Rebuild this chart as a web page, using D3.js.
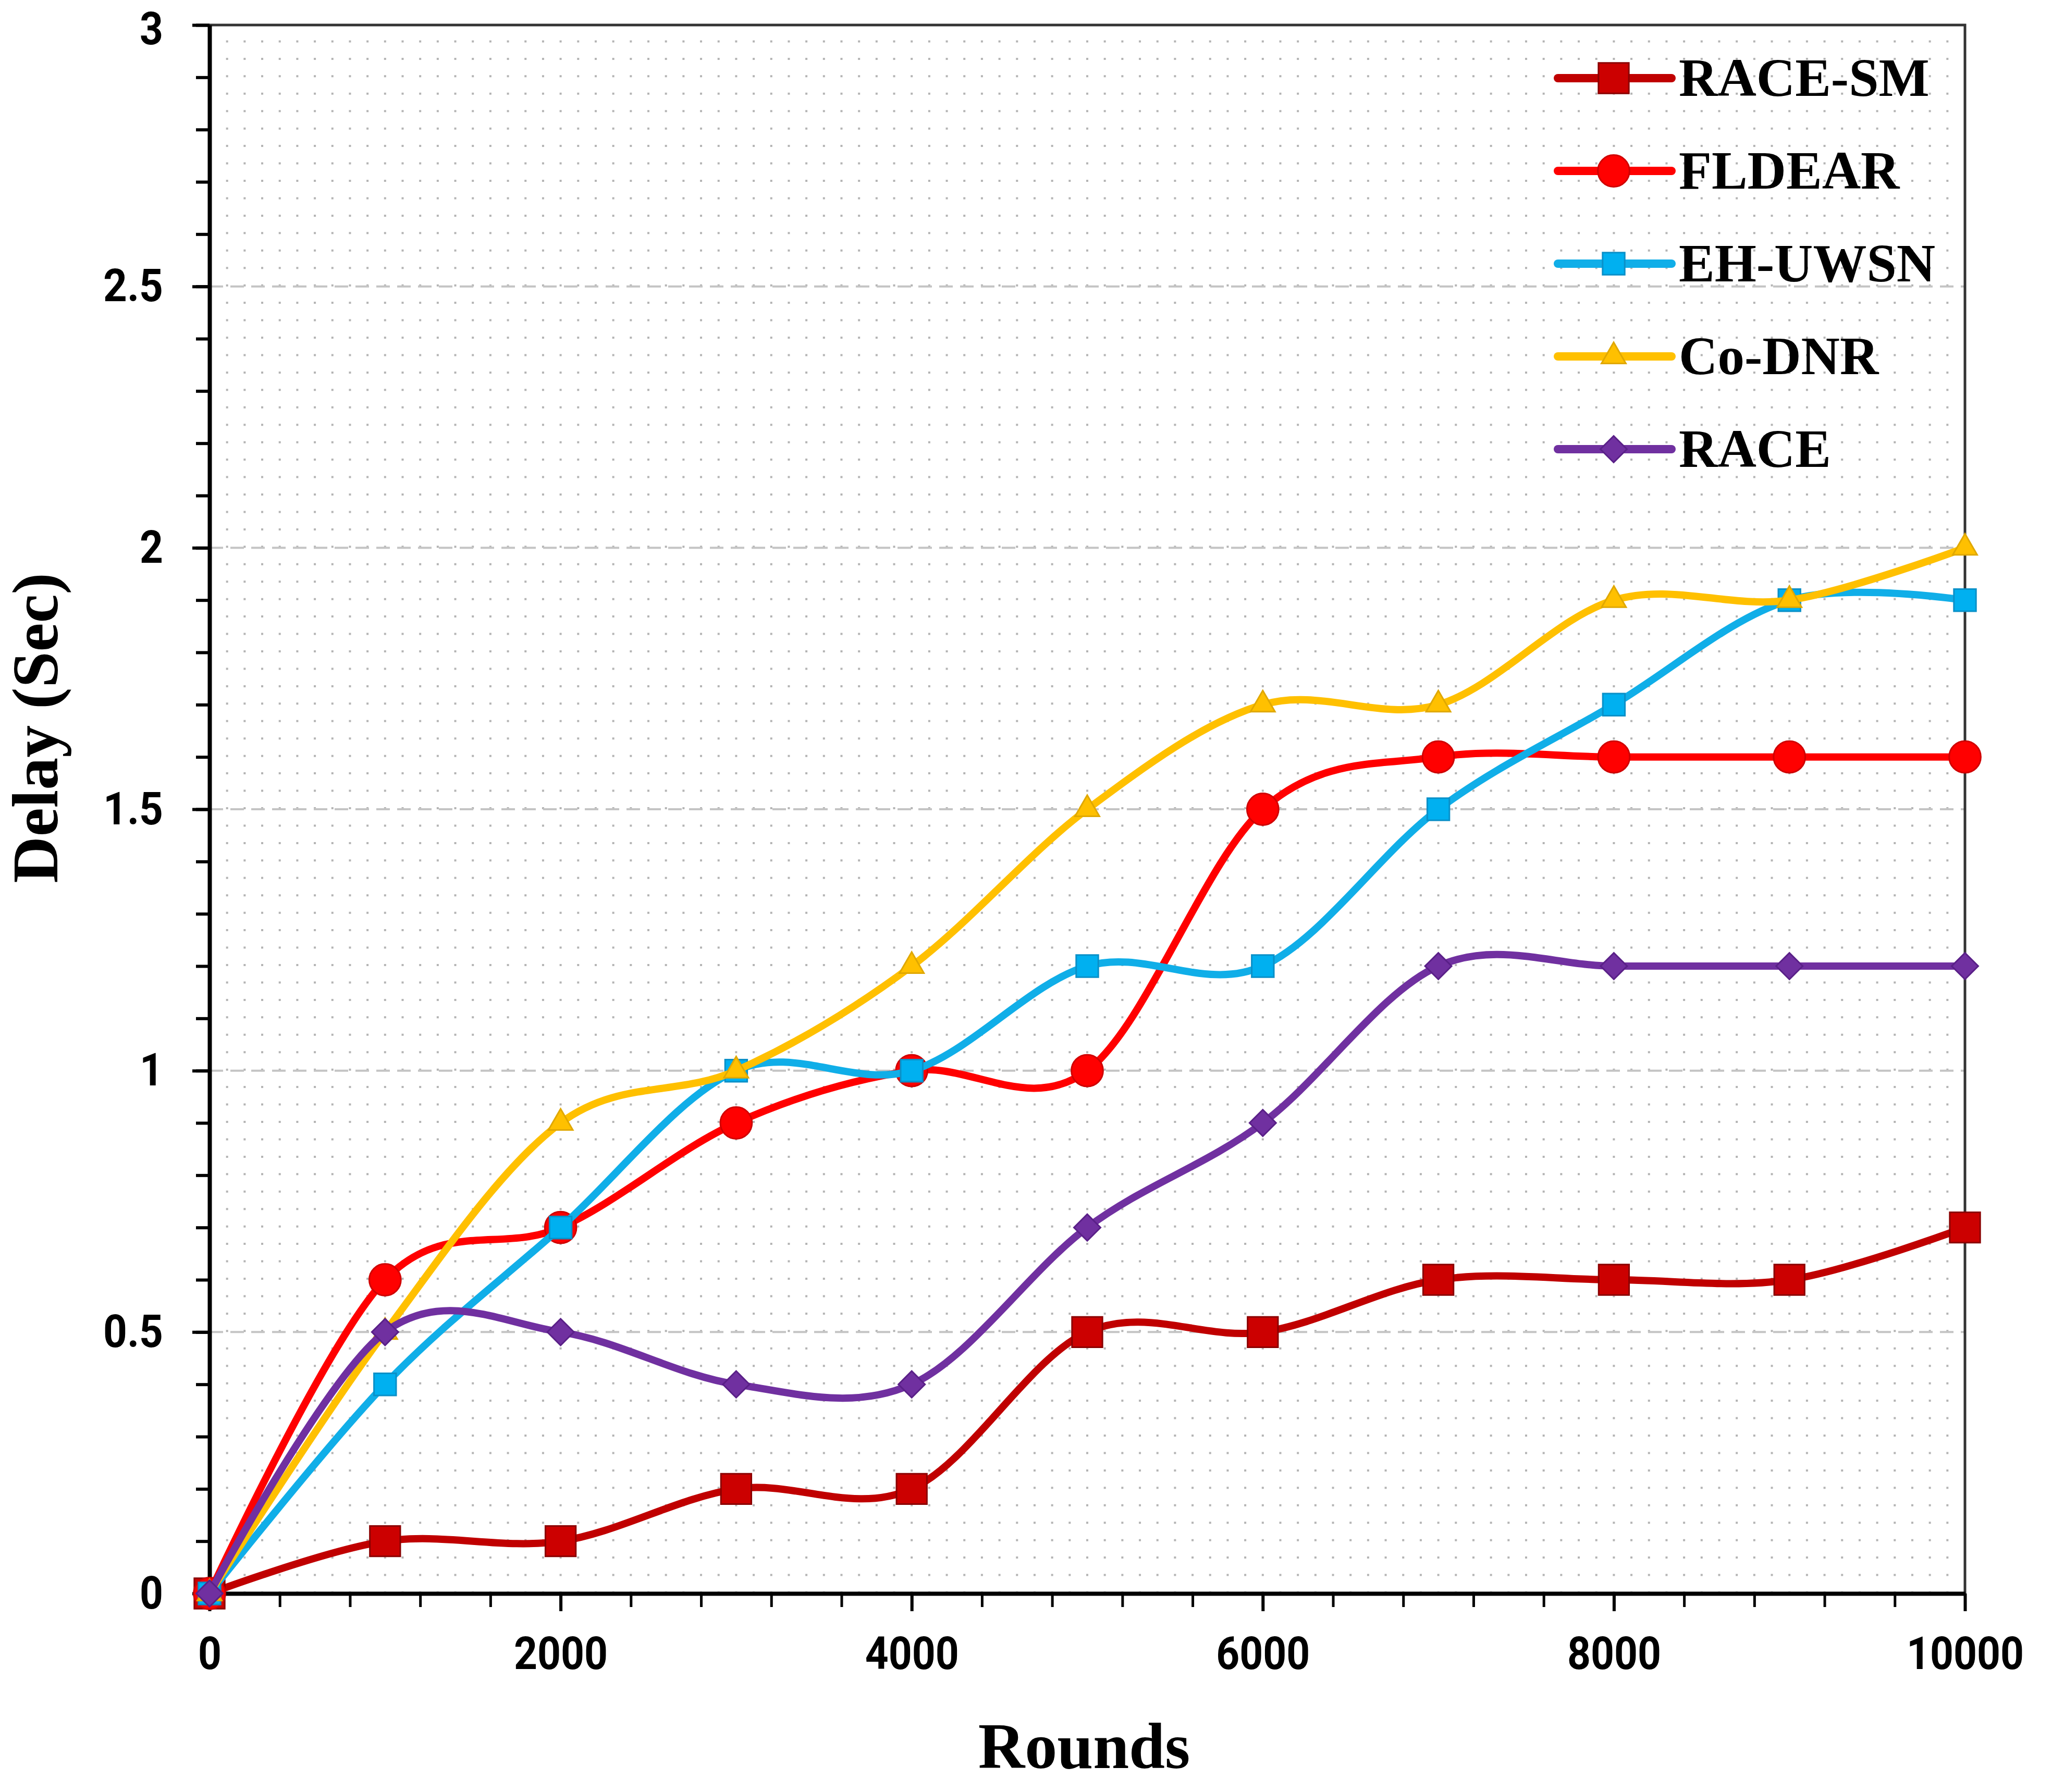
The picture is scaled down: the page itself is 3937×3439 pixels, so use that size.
<!DOCTYPE html>
<html>
<head>
<meta charset="utf-8">
<script src="https://cdn.jsdelivr.net/npm/d3@7"></script>
<style>
  body { margin: 0; background: #fff; }
  .tick text { font-family: Roboto, "DejaVu Sans Condensed", sans-serif; font-weight: bold; }
  .title { font-family: "Liberation Serif", "Times New Roman", serif; font-weight: bold; }
</style>
</head>
<body>
<div id="chart"></div>
<script>
// values
var rounds = [0, 1000, 2000, 3000, 4000, 5000, 6000, 7000, 8000, 9000, 10000];
var raceSm = [0, 0.1, 0.1, 0.2, 0.2, 0.5, 0.5, 0.6, 0.6, 0.6, 0.7];
var fldear = [0, 0.6, 0.7, 0.9, 1.0, 1.0, 1.5, 1.6, 1.6, 1.6, 1.6];
var ehUwsn = [0, 0.4, 0.7, 1.0, 1.0, 1.2, 1.2, 1.5, 1.7, 1.9, 1.9];
var coDnr  = [0, 0.5, 0.9, 1.0, 1.2, 1.5, 1.7, 1.7, 1.9, 1.9, 2.0];
var race   = [0, 0.5, 0.5, 0.4, 0.4, 0.7, 0.9, 1.2, 1.2, 1.2, 1.2];

var seriesNames = ["RACE-SM", "FLDEAR", "EH-UWSN", "Co-DNR", "RACE"];
var seriesValues = [raceSm, fldear, ehUwsn, coDnr, race];

var xTicks = [0, 2000, 4000, 6000, 8000, 10000];
var yTicks = [0, 0.5, 1, 1.5, 2, 2.5, 3];

// look of each series (Excel-ish colours + marker shapes)
var styles = [
    {line: "#c00000", fill: "#cc0000", edge: "#8b0000", shape: d3.symbolSquare, size: 3400, rot: 0},
    {line: "#ff0000", fill: "#ff0000", edge: "#d00000", shape: d3.symbolCircle, size: 2900, rot: 0},
    {line: "#10aee8", fill: "#00b0f0", edge: "#0a90c8", shape: d3.symbolSquare, size: 1800, rot: 0},
    {line: "#ffc000", fill: "#ffc000", edge: "#e0a800", shape: d3.symbolTriangle, size: 950, rot: 0},
    {line: "#7030a0", fill: "#7030a0", edge: "#5a2088", shape: d3.symbolSquare, size: 1300, rot: 45}
];

var W = 3937, H = 3439;
var margin = {left: 402, top: 48, right: W - 3770, bottom: H - 3058};
var plotW = W - margin.left - margin.right,
    plotH = H - margin.top - margin.bottom;

var svg = d3.select("#chart").append("svg")
    .attr("width", W)
    .attr("height", H)
    .style("background", "#fff");

var g = svg.append("g")
    .attr("transform", "translate(" + margin.left + "," + margin.top + ")");

var x = d3.scaleLinear().domain([0, 10000]).range([0, plotW]);
var y = d3.scaleLinear().domain([0, 3]).range([plotH, 0]);

// dotted background grid
var dotGap = y(0) - y(1 / 30);
g.append("g").attr("class", "dots")
    .selectAll("line")
    .data(d3.range(100, 10000, 100))
    .enter().append("line")
    .attr("x1", d => x(d)).attr("x2", d => x(d))
    .attr("y1", plotH).attr("y2", 0)
    .style("stroke", "#b4b4b4")
    .style("stroke-width", 4)
    .style("stroke-dasharray", "4," + (dotGap - 4));

// dashed major gridlines
g.append("g").attr("class", "grid")
    .selectAll("line")
    .data(yTicks.filter(d => d > 0 && d < 3))
    .enter().append("line")
    .attr("x1", 0).attr("x2", plotW)
    .attr("y1", d => y(d)).attr("y2", d => y(d))
    .style("stroke", "#c4c4c4")
    .style("stroke-width", 4)
    .style("stroke-dasharray", "26,14");

// top and right frame
g.append("path")
    .attr("d", "M0,0H" + plotW + "V" + plotH)
    .style("fill", "none")
    .style("stroke", "#333")
    .style("stroke-width", 5);

// minor ticks
g.append("g")
    .attr("transform", "translate(0," + plotH + ")")
    .call(d3.axisBottom(x).tickValues(d3.range(0, 10001, 400)).tickSize(26).tickFormat(""))
    .call(a => a.select(".domain").remove())
    .selectAll("line").style("stroke", "#000").style("stroke-width", 5);

g.append("g")
    .call(d3.axisLeft(y).tickValues(d3.range(0, 31).map(d => d / 10)).tickSize(26).tickFormat(""))
    .call(a => a.select(".domain").remove())
    .selectAll("line").style("stroke", "#000").style("stroke-width", 6);

// narrow tick labels, like the condensed font of the original
function narrow(sel) {
    sel.style("font-size", "88px").style("fill", "#000")
        .attr("lengthAdjust", "spacingAndGlyphs")
        .attr("textLength", function () {
            var t = d3.select(this).text();
            return t.replace(/\./g, "").length * 45 + (t.indexOf(".") >= 0 ? 25 : 0);
        });
}

// main axes
var xAxis = g.append("g")
    .attr("transform", "translate(0," + plotH + ")")
    .call(d3.axisBottom(x).tickValues(xTicks).tickSize(34).tickPadding(49).tickSizeOuter(0).tickFormat(d3.format("d")));
xAxis.selectAll("text").call(narrow);

var yAxis = g.append("g")
    .call(d3.axisLeft(y).tickValues(yTicks).tickSize(33).tickPadding(56).tickSizeOuter(0).tickFormat(d3.format("~g")));
yAxis.selectAll("text").call(narrow);
// keep the top label inside the page
yAxis.selectAll(".tick").filter(d => d === 3).select("text").attr("y", 8);

[xAxis, yAxis].forEach(function (a) {
    a.select(".domain").style("stroke", "#000").style("stroke-width", 8);
    a.selectAll(".tick line").style("stroke", "#000").style("stroke-width", 6);
});

// smoothed lines (Excel style)
var line = d3.line()
    .x((d, i) => x(rounds[i]))
    .y(d => y(d))
    .curve(d3.curveCardinal.tension(0));

function marker(sel, st) {
    sel.attr("d", d3.symbol().type(st.shape).size(st.size))
        .style("fill", st.fill)
        .style("stroke", st.edge)
        .style("stroke-width", 3);
}

seriesValues.forEach(function (vals, k) {
    var st = styles[k];
    var s = g.append("g").attr("class", "series");
    s.append("path")
        .datum(vals)
        .attr("d", line)
        .style("fill", "none")
        .style("stroke", st.line)
        .style("stroke-width", 14)
        .style("stroke-linecap", "round");
    s.selectAll(".pt")
        .data(vals)
        .enter().append("path")
        .attr("class", "pt")
        .attr("transform", (d, i) => "translate(" + x(rounds[i]) + "," + y(d) + ") rotate(" + st.rot + ")")
        .call(marker, st);
});

// legend
var legend = svg.append("g").attr("transform", "translate(2989,150)");
var legRow = 178;
var item = legend.selectAll(".leg")
    .data(seriesNames)
    .enter().append("g")
    .attr("class", "leg")
    .attr("transform", (d, i) => "translate(0," + (i * legRow) + ")");

item.append("line")
    .attr("x1", 0).attr("x2", 218)
    .style("stroke", (d, i) => styles[i].line)
    .style("stroke-width", 16)
    .style("stroke-linecap", "round");

item.append("path")
    .attr("transform", (d, i) => "translate(107,0) rotate(" + styles[i].rot + ")")
    .each(function (d, i) { d3.select(this).call(marker, styles[i]); });

item.append("text")
    .attr("class", "title")
    .attr("x", 232)
    .attr("y", 34)
    .style("font-size", "103px")
    .text(d => d);

// axis titles
svg.append("text")
    .attr("class", "title")
    .attr("x", 2080)
    .attr("y", 3393)
    .attr("text-anchor", "middle")
    .style("font-size", "124px")
    .text("Rounds");

svg.append("text")
    .attr("class", "title")
    .attr("transform", "translate(110,1397) rotate(-90)")
    .attr("text-anchor", "middle")
    .style("font-size", "124px")
    .text("Delay (Sec)");
</script>
</body>
</html>
